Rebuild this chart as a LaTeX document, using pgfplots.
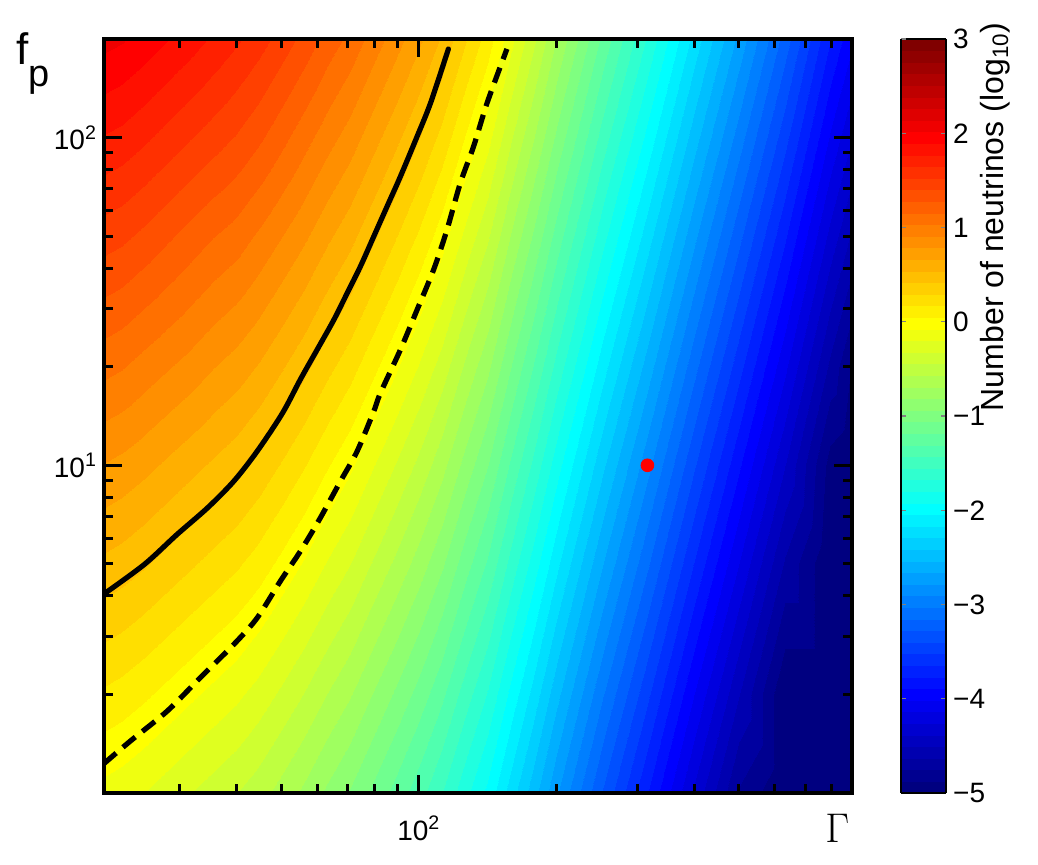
\documentclass[border=0pt]{standalone}
\usepackage{fontspec}
\setmainfont{Liberation Sans}
\usepackage{pgfplots}
\pgfplotsset{compat=1.18}
\pgfplotsset{colormap/jet}

\begin{document}
\begin{tikzpicture}
\useasboundingbox (-52pt,-36pt) rectangle (467pt,396.5pt);
\begin{axis}[
  at={(0,0)}, anchor=south west,
  scale only axis, width=374pt, height=377pt,
  xmode=log, ymode=log,
  xmin=20.5, xmax=885, ymin=1, ymax=200,
  xtick={100}, xticklabels={10\textsuperscript{2}},
  ytick={10,100}, yticklabels={10\textsuperscript{1},10\textsuperscript{2}},
  minor xtick={30,40,50,60,70,80,90,200,300,400,500,600,700,800},
  minor ytick={2,3,4,5,6,7,8,9,20,30,40,50,60,70,80,90},
  tick align=inside,
  major tick length=9pt, minor tick length=4.5pt,
  tick style={black, line width=1.5pt},
  axis line style={line width=2pt},
  tick label style={font=\fontsize{14}{16}\selectfont},
  xticklabel style={yshift=-8pt},
  axis on top,
  colormap={jetsamp}{samples of colormap=(65 of jet)},
  colormap access=piecewise constant,
  point meta min=-5, point meta max=3,
  colorbar,
  colorbar style={
    at={(parent axis.north east)}, anchor=north west, xshift=16pt,
    width=22.5pt,
    ytick={-5,-4,...,3},
    yticklabels={−5,−4,−3,−2,−1,0,1,2,3},
    major tick length=2.5pt,
    tick style={line width=0.6pt},
    axis line style={line width=0.6pt},
    yticklabel style={font=\fontsize{14}{16}\selectfont},
  },
]
% log10 of the neutrino number
\addplot[surf, shader=interp, mesh/cols=28, point meta=explicit] table[x=g, y=f, meta=n] {
g f n
20.5 1 -0.12
22.39 1 -0.15
25.12 1 -0.20
28.18 1 -0.26
31.62 1 -0.32
35.48 1 -0.38
39.81 1 -0.44
44.67 1 -0.52
50.12 1 -0.62
56.23 1 -0.72
63.10 1 -0.84
70.79 1 -0.95
79.43 1 -1.09
89.13 1 -1.23
100 1 -1.38
112.2 1 -1.55
125.9 1 -1.76
141.3 1 -1.96
158.5 1 -2.22
177.8 1 -2.48
199.5 1 -2.76
251.2 1 -3.28
316.2 1 -3.77
398.1 1 -4.27
501.2 1 -4.77
631.0 1 -5.28
794.3 1 -5.83
885 1 -6.06
20.5 2 0.15
22.39 2 0.12
25.12 2 0.07
28.18 2 0.01
31.62 2 -0.05
35.48 2 -0.11
39.81 2 -0.17
44.67 2 -0.25
50.12 2 -0.35
56.23 2 -0.45
63.10 2 -0.57
70.79 2 -0.68
79.43 2 -0.82
89.13 2 -0.96
100 2 -1.11
112.2 2 -1.28
125.9 2 -1.49
141.3 2 -1.69
158.5 2 -1.95
177.8 2 -2.21
199.5 2 -2.49
251.2 2 -3.01
316.2 2 -3.50
398.1 2 -4.00
501.2 2 -4.50
631.0 2 -5.01
794.3 2 -5.56
885 2 -5.79
20.5 5 0.51
22.39 5 0.48
25.12 5 0.43
28.18 5 0.37
31.62 5 0.31
35.48 5 0.25
39.81 5 0.19
44.67 5 0.11
50.12 5 0.01
56.23 5 -0.09
63.10 5 -0.21
70.79 5 -0.32
79.43 5 -0.46
89.13 5 -0.60
100 5 -0.75
112.2 5 -0.92
125.9 5 -1.13
141.3 5 -1.33
158.5 5 -1.59
177.8 5 -1.85
199.5 5 -2.13
251.2 5 -2.65
316.2 5 -3.14
398.1 5 -3.64
501.2 5 -4.14
631.0 5 -4.65
794.3 5 -5.20
885 5 -5.43
20.5 10 0.78
22.39 10 0.75
25.12 10 0.70
28.18 10 0.64
31.62 10 0.58
35.48 10 0.52
39.81 10 0.46
44.67 10 0.38
50.12 10 0.28
56.23 10 0.18
63.10 10 0.06
70.79 10 -0.05
79.43 10 -0.19
89.13 10 -0.33
100 10 -0.48
112.2 10 -0.65
125.9 10 -0.86
141.3 10 -1.06
158.5 10 -1.32
177.8 10 -1.58
199.5 10 -1.86
251.2 10 -2.38
316.2 10 -2.87
398.1 10 -3.37
501.2 10 -3.87
631.0 10 -4.38
794.3 10 -4.93
885 10 -5.16
20.5 20 1.07
22.39 20 1.04
25.12 20 0.98
28.18 20 0.92
31.62 20 0.86
35.48 20 0.79
39.81 20 0.73
44.67 20 0.65
50.12 20 0.55
56.23 20 0.45
63.10 20 0.33
70.79 20 0.22
79.43 20 0.08
89.13 20 -0.06
100 20 -0.21
112.2 20 -0.38
125.9 20 -0.59
141.3 20 -0.79
158.5 20 -1.05
177.8 20 -1.31
199.5 20 -1.59
251.2 20 -2.11
316.2 20 -2.60
398.1 20 -3.10
501.2 20 -3.60
631.0 20 -4.11
794.3 20 -4.66
885 20 -4.89
20.5 50 1.46
22.39 50 1.43
25.12 50 1.37
28.18 50 1.30
31.62 50 1.23
35.48 50 1.16
39.81 50 1.10
44.67 50 1.01
50.12 50 0.91
56.23 50 0.81
63.10 50 0.69
70.79 50 0.58
79.43 50 0.44
89.13 50 0.30
100 50 0.15
112.2 50 -0.02
125.9 50 -0.23
141.3 50 -0.43
158.5 50 -0.69
177.8 50 -0.95
199.5 50 -1.23
251.2 50 -1.75
316.2 50 -2.24
398.1 50 -2.74
501.2 50 -3.24
631.0 50 -3.75
794.3 50 -4.30
885 50 -4.53
20.5 100 1.76
22.39 100 1.73
25.12 100 1.67
28.18 100 1.60
31.62 100 1.53
35.48 100 1.46
39.81 100 1.39
44.67 100 1.30
50.12 100 1.19
56.23 100 1.08
63.10 100 0.96
70.79 100 0.85
79.43 100 0.71
89.13 100 0.57
100 100 0.42
112.2 100 0.25
125.9 100 0.04
141.3 100 -0.16
158.5 100 -0.42
177.8 100 -0.68
199.5 100 -0.96
251.2 100 -1.48
316.2 100 -1.97
398.1 100 -2.47
501.2 100 -2.97
631.0 100 -3.48
794.3 100 -4.03
885 100 -4.26
20.5 200 2.06
22.39 200 2.03
25.12 200 1.97
28.18 200 1.90
31.62 200 1.83
35.48 200 1.75
39.81 200 1.67
44.67 200 1.58
50.12 200 1.47
56.23 200 1.36
63.10 200 1.23
70.79 200 1.12
79.43 200 0.98
89.13 200 0.84
100 200 0.69
112.2 200 0.52
125.9 200 0.31
141.3 200 0.11
158.5 200 -0.15
177.8 200 -0.41
199.5 200 -0.69
251.2 200 -1.21
316.2 200 -1.70
398.1 200 -2.20
501.2 200 -2.70
631.0 200 -3.21
794.3 200 -3.76
885 200 -3.99
};
% solid contour
\addplot[black, line width=2.6pt, smooth, line join=round] coordinates {
(20.5,4.05) (25.1,4.98) (29.6,6.15) (34.5,7.41) (39.4,8.94) (44.3,11.03)
(50.3,14.4) (55.1,18.3) (59.9,22.5) (65.2,27.8) (69.7,33.5) (74.5,40.4)
(79.7,49.9) (85.2,61.6) (91.1,76.0) (99.1,100.7) (106.0,127.2) (115.2,180.7) (115.8,185)
};
% dashed contour
\addplot[black, line width=2.6pt, smooth, dash pattern=on 8pt off 4.5pt] coordinates {
(20.5,1.23) (23.4,1.44) (28.2,1.78) (33.3,2.25) (39.4,2.84) (44.3,3.42)
(49.8,4.43) (55.1,5.47) (60.9,6.91) (67.4,8.94) (73.3,11.03) (79.7,14.6)
(82.4,16.6) (91.1,22.5) (99.1,29.8) (107.7,39.5) (115.2,52.3) (123.2,72.6)
(131.7,93.9) (140.9,127.2) (154.5,180.7) (155.5,185)
};
\addplot[only marks, mark=*, mark size=3.2pt, red] coordinates {(316,10)};
\end{axis}
\node[anchor=base west, inner sep=0] at (-44pt,364pt)
  {\fontsize{22}{22}\selectfont f\raisebox{-11pt}{\fontsize{19}{19}\selectfont p}};
\node[anchor=base west, inner sep=0] at (360.5pt,-25pt)
  {\fontsize{20.5}{20.5}\selectfont$\Gamma$};
\node[rotate=90, anchor=base east, inner sep=0, font=\fontsize{16}{16}\selectfont]
  at (449.5pt,385.5pt) {Number of neutrinos (log\textsubscript{10})};
\end{tikzpicture}
\end{document}
